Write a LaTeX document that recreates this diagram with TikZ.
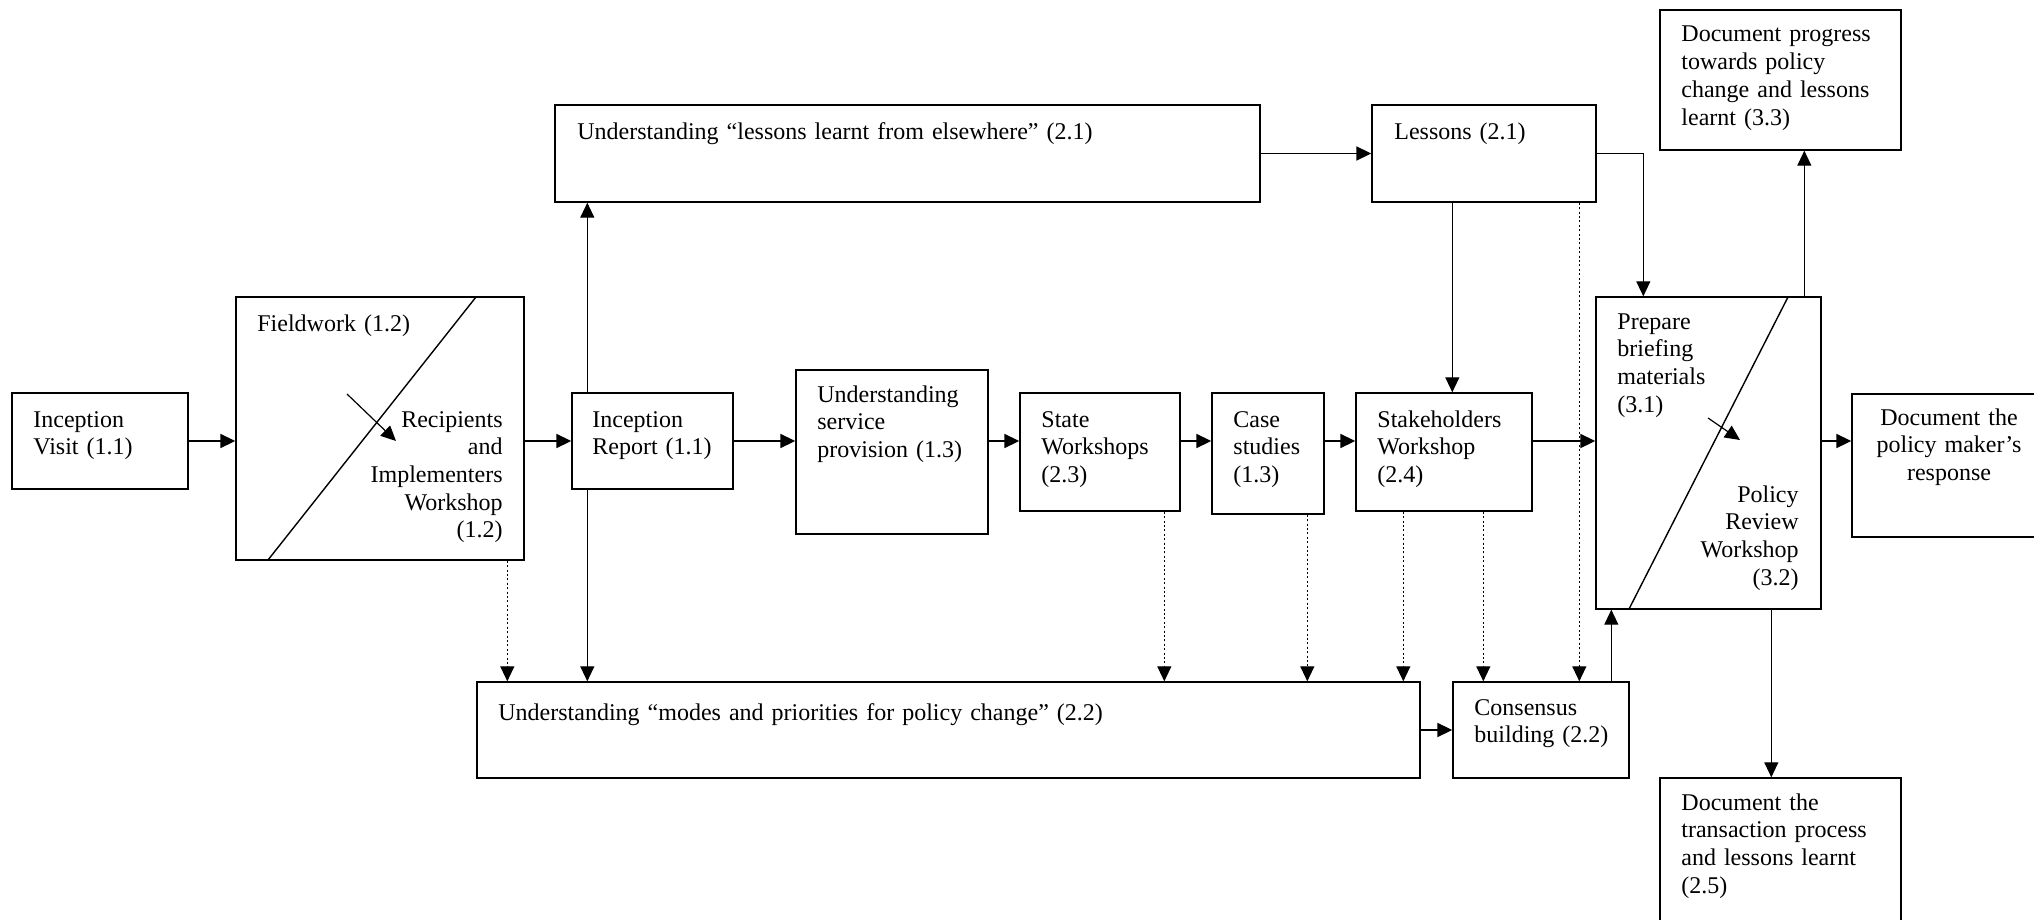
\documentclass[tikz,border=0pt]{standalone}
\usepackage{fontspec}
\setmainfont{Liberation Serif}
\usetikzlibrary{arrows.meta, calc, fit, positioning}
\tikzset{
    box/.style={draw, line width=0.7pt, inner sep=0pt},
    txt/.style={inner sep=0pt, text width=12cm, align=left, anchor=base west,
        font=\fontsize{12}{13.85}\selectfont},
    txtr/.style={txt, align=right, anchor=base east},
    txtc/.style={txt, text width=4cm, align=center, anchor=base},
    arr/.style={line width=0.9pt, -{Triangle[length=7.5pt, width=7pt]}},
    arrv/.style={line width=0.6pt, -{Triangle[length=7.5pt, width=7pt]}},
    arrd/.style={line width=0.6pt, dash pattern=on 1pt off 1.2pt, -{Triangle[length=7.5pt, width=7pt]}}
}
\begin{document}
\begin{tikzpicture}[x=0.5pt, y=-0.5pt]
    \useasboundingbox (0,0) rectangle (2034,920);
    \clip (0,0) rectangle (2034,920);
    % boxes
    \node[box, fit={(12,393) (188,489)}] (visit) {};
    \node[box, fit={(236,297) (524,560)}] (field) {};
    \node[box, fit={(572,393) (733,489)}] (report) {};
    \node[box, fit={(796,370) (988,534)}] (service) {};
    \node[box, fit={(1020,393) (1180,511)}] (state) {};
    \node[box, fit={(1212,393) (1324,514)}] (case) {};
    \node[box, fit={(1356,393) (1532,511)}] (stake) {};
    \node[box, fit={(1596,297) (1821,609)}] (policy) {};
    \node[box, fit={(1852,394) (2046,537)}] (response) {};
    \node[box, fit={(1660,10) (1901,150)}] (progress) {};
    \node[box, fit={(1660,778) (1901,940)}] (transaction) {};
    \node[box, fit={(555,105) (1260,202)}] (elsewhere) {};
    \node[box, fit={(1372,105) (1596,202)}] (lessons) {};
    \node[box, fit={(477,682) (1420,778)}] (modes) {};
    \node[box, fit={(1453,682) (1629,778)}] (consensus) {};
    % split boxes
    \draw[line width=0.7pt] (476,297) -- (268,560);
    \draw[line width=0.7pt] (1788,297) -- (1629,609);
    \coordinate (fa) at (347,394);
    \coordinate (fb) at (396,441);
    \coordinate (pa) at (1708,418);
    \coordinate (pb) at (1740,440);
    \draw[arrv] (fa) -- (fb);
    \draw[arrv] (pa) -- (pb);
    % texts
    \node[txt] at (33,427) {Inception\\Visit (1.1)};
    \node[txt] at (257,331) {Fieldwork (1.2)};
    \node[txtr] at (503,427) {Recipients\\and\\Implementers\\Workshop\\(1.2)};
    \node[txt] at (592,427) {Inception\\Report (1.1)};
    \node[txt] at (817,402) {Understanding\\service\\provision (1.3)};
    \node[txt] at (1041,427) {State\\Workshops\\(2.3)};
    \node[txt] at (1233,427) {Case\\studies\\(1.3)};
    \node[txt] at (1377,427) {Stakeholders\\Workshop\\(2.4)};
    \node[txt] at (1617,329) {Prepare\\briefing\\materials\\(3.1)};
    \node[txtr] at (1799,502) {Policy\\Review\\Workshop\\(3.2)};
    \node[txtc] at (1949,425) {Document the\\policy maker’s\\response};
    \node[txt] at (1681,42) {Document progress\\towards policy\\change and lessons\\learnt (3.3)};
    \node[txt] at (1681,810) {Document the\\transaction process\\and lessons learnt\\(2.5)};
    \node[txt] at (577,140) {Understanding “lessons learnt from elsewhere” (2.1)};
    \node[txt] at (1394,140) {Lessons (2.1)};
    \node[txt] at (498,720) {Understanding “modes and priorities for policy change” (2.2)};
    \node[txt] at (1474,715) {Consensus\\building (2.2)};
    % main line
    \draw[arr] (visit.east) -- (visit.east -| field.west);
    \draw[arr] (field.east |- report) -- (report.west);
    \draw[arr] (report.east) -- (report.east -| service.west);
    \draw[arr] (service.east |- report) -- (state.west |- report);
    \draw[arr] (state.east |- report) -- (case.west |- report);
    \draw[arr] (case.east |- report) -- (stake.west |- report);
    \draw[arr] (stake.east |- report) -- (policy.west |- report);
    \draw[arr] (policy.east |- report) -- (response.west |- report);
    \draw[arr] (elsewhere.east) -- (lessons.west);
    \draw[arr] (modes.east) -- (consensus.west);
    % verticals
    \coordinate (rup) at ($(report.north west)+(16,0)$);
    \coordinate (rdown) at ($(report.south west)+(16,0)$);
    \coordinate (lsdown) at ($(lessons.south west)+(81,0)$);
    \coordinate (pin) at ($(policy.north west)+(48,0)$);
    \coordinate (pup) at ($(policy.north west)+(209,0)$);
    \coordinate (pdown) at ($(policy.south west)+(176,0)$);
    \coordinate (cup) at ($(consensus.north west)+(159,0)$);
    \draw[arrv] (rup) -- (rup |- elsewhere.south);
    \draw[arrv] (rdown) -- (rdown |- modes.north);
    \draw[arrv] (lsdown) -- (lsdown |- stake.north);
    \draw[arrv] (lessons.east) -| (pin);
    \draw[arrv] (pup) -- (pup |- progress.south);
    \draw[arrv] (pdown) -- (pdown |- transaction.north);
    \draw[arrv] (cup) -- (cup |- policy.south);
    % dotted
    \coordinate (d1) at ($(field.south west)+(272,0)$);
    \coordinate (d2) at ($(state.south west)+(145,0)$);
    \coordinate (d3) at ($(case.south west)+(96,0)$);
    \coordinate (d4) at ($(stake.south west)+(48,0)$);
    \coordinate (d5) at ($(stake.south west)+(128,0)$);
    \coordinate (d6) at ($(lessons.south west)+(208,0)$);
    \draw[arrd] (d1) -- (d1 |- modes.north);
    \draw[arrd] (d2) -- (d2 |- modes.north);
    \draw[arrd] (d3) -- (d3 |- modes.north);
    \draw[arrd] (d4) -- (d4 |- modes.north);
    \draw[arrd] (d5) -- (d5 |- consensus.north);
    \draw[arrd] (d6) -- (d6 |- consensus.north);
\end{tikzpicture}
\end{document}
